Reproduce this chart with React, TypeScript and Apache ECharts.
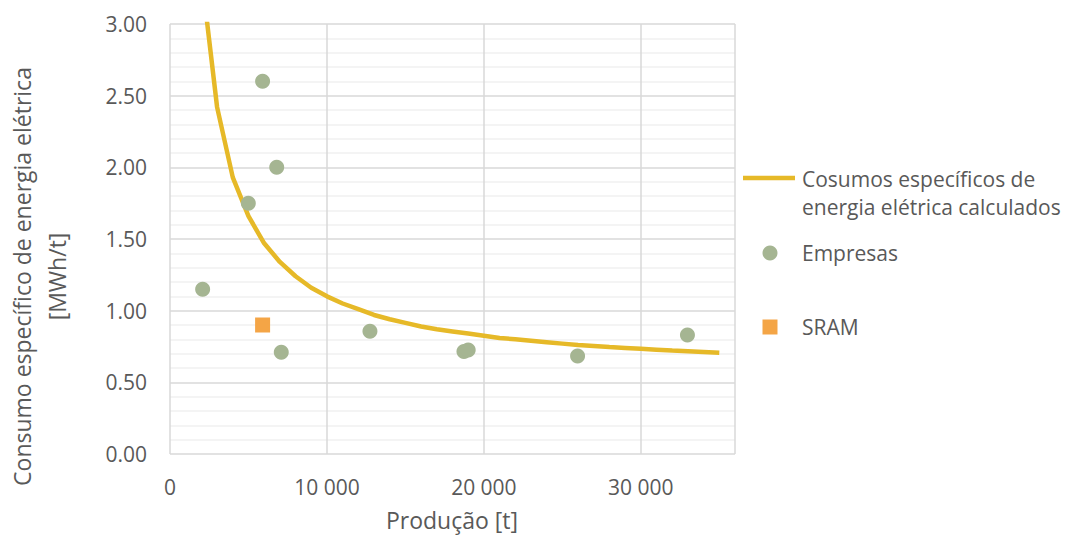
import React, { useEffect, useRef } from "react";
import * as echarts from "echarts";

const curveX = [2000, 3000, 4000, 5000, 6000, 7000, 8000, 9000, 10000, 11000, 12000, 13000, 14000, 15000, 16000, 17000, 18000, 19000, 20000, 21000, 22000, 23000, 24000, 25000, 26000, 27000, 28000, 29000, 30000, 31000, 32000, 33000, 34000, 35000];
const curveY = [3.35, 2.42, 1.93, 1.66, 1.47, 1.34, 1.24, 1.16, 1.1, 1.05, 1.01, 0.97, 0.94, 0.915, 0.89, 0.87, 0.855, 0.84, 0.825, 0.81, 0.8, 0.79, 0.78, 0.77, 0.76, 0.753, 0.746, 0.74, 0.734, 0.728, 0.722, 0.717, 0.712, 0.707];
const empresasX = [2080, 4990, 5900, 6800, 7090, 12740, 18730, 19000, 25970, 32970];
const empresasY = [1.15, 1.75, 2.6, 2.0, 0.71, 0.856, 0.715, 0.725, 0.684, 0.83];
const sramX = [5900];
const sramY = [0.9];
const seriesNames = ["Cosumos específicos de\nenergia elétrica calculados", "Empresas", "SRAM"];
const xTitle = "Produção [t]";
const yTitle = "Consumo específico de energia elétrica\n[MWh/t]";

const FONT = "'Open Sans', sans-serif";
const TXT = "#595959";
const LINE_C = "#E6B928";
const GREEN = "#A5B592";
const ORANGE = "#F4A546";

export default function App() {
  const ref = useRef<HTMLDivElement>(null);
  useEffect(() => {
    if (!ref.current) return;
    const chart = echarts.init(ref.current, null, { renderer: "svg" });
    chart.setOption({
      animation: false,
      backgroundColor: "#ffffff",
      textStyle: { fontFamily: FONT },
      grid: { left: 170, top: 24, width: 565, height: 430, containLabel: false },
      xAxis: {
        type: "value",
        min: 0,
        max: 36000,
        interval: 10000,
        axisLine: { show: false },
        axisTick: { show: false },
        splitLine: { show: true, lineStyle: { color: "#D9D9D9", width: 1.5 } },
        axisLabel: {
          color: TXT,
          fontSize: 21,
          fontFamily: FONT,
          margin: 22,
          showMaxLabel: false,
          formatter: (v: number) => (v >= 1000 ? String(v).replace(/\B(?=(\d{3})+(?!\d))/g, " ") : String(v)),
        },
      },
      yAxis: {
        type: "value",
        min: 0,
        max: 3,
        interval: 0.5,
        axisLine: { show: false },
        axisTick: { show: false },
        splitLine: { show: true, lineStyle: { color: "#D9D9D9", width: 1.5 } },
        minorTick: { show: false, splitNumber: 5 },
        minorSplitLine: { show: true, lineStyle: { color: "#F0F0F0", width: 1.5 } },
        axisLabel: {
          color: TXT,
          fontSize: 21,
          fontFamily: FONT,
          margin: 23,
          formatter: (v: number) => v.toFixed(2),
        },
      },
      series: [
        {
          name: seriesNames[0],
          type: "line",
          data: curveX.map((x, i) => [x, curveY[i]]),
          symbol: "none",
          smooth: false,
          clip: true,
          lineStyle: { color: LINE_C, width: 4.5 },
          z: 3,
        },
        {
          name: seriesNames[1],
          type: "scatter",
          data: empresasX.map((x, i) => [x, empresasY[i]]),
          symbol: "circle",
          symbolSize: 15,
          itemStyle: { color: GREEN, opacity: 1 },
          z: 4,
        },
        {
          name: seriesNames[2],
          type: "scatter",
          data: sramX.map((x, i) => [x, sramY[i]]),
          symbol: "rect",
          symbolSize: 15,
          itemStyle: { color: ORANGE, opacity: 1 },
          z: 4,
        },
      ],
      graphic: [
        {
          type: "text",
          x: 39.5,
          y: 276.5,
          rotation: Math.PI / 2,
          style: {
            text: yTitle,
            fill: TXT,
            font: `23px ${FONT}`,
            align: "center",
            verticalAlign: "middle",
            lineHeight: 35,
          },
        },
        {
          type: "text",
          x: 452,
          y: 520,
          style: {
            text: xTitle,
            fill: TXT,
            font: `23px ${FONT}`,
            align: "center",
            verticalAlign: "middle",
          },
        },
        {
          type: "line",
          shape: { x1: 743, y1: 178, x2: 795, y2: 178 },
          style: { stroke: LINE_C, lineWidth: 4.5 },
        },
        {
          type: "text",
          x: 802,
          y: 193,
          style: {
            text: seriesNames[0],
            fill: TXT,
            font: `21px ${FONT}`,
            align: "left",
            verticalAlign: "middle",
            lineHeight: 28,
          },
        },
        { type: "circle", shape: { cx: 770, cy: 253, r: 7.5 }, style: { fill: GREEN } },
        {
          type: "text",
          x: 802,
          y: 253,
          style: { text: seriesNames[1], fill: TXT, font: `21px ${FONT}`, align: "left", verticalAlign: "middle" },
        },
        { type: "rect", shape: { x: 762.5, y: 319.5, width: 15, height: 15 }, style: { fill: ORANGE } },
        {
          type: "text",
          x: 802,
          y: 327,
          style: { text: seriesNames[2], fill: TXT, font: `21px ${FONT}`, align: "left", verticalAlign: "middle" },
        },
      ],
    });
    return () => chart.dispose();
  }, []);
  return <div ref={ref} style={{ position: "absolute", left: 0, top: 0, width: 1065, height: 537 }} />;
}
